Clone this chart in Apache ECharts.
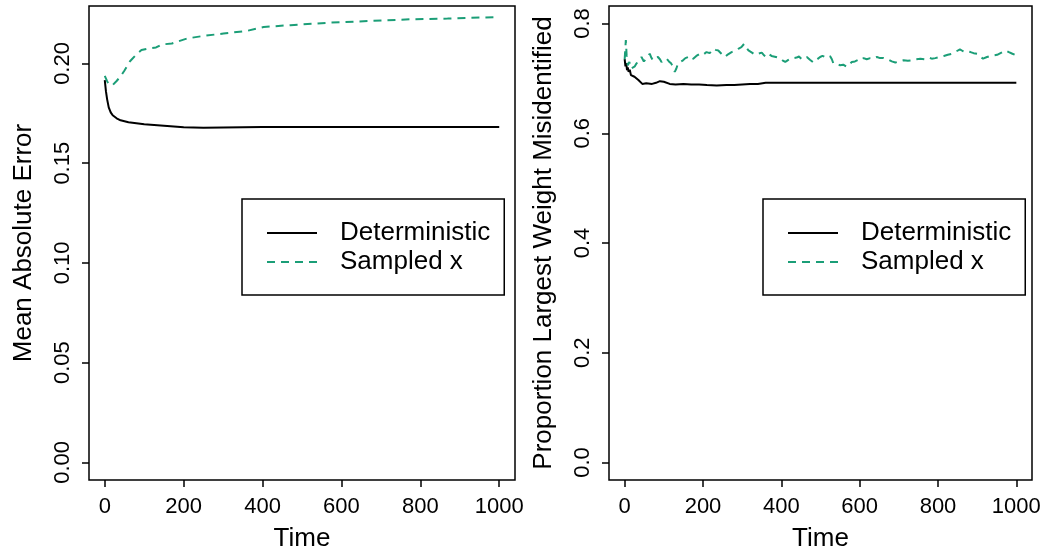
<!DOCTYPE html>
<html>
<head>
<meta charset="utf-8">
<script src="https://cdn.jsdelivr.net/npm/echarts@6/dist/echarts.min.js"></script>
<style>
  html, body { margin: 0; padding: 0; background: #fff; }
  #chart_1 { width: 1047px; height: 553px; }
</style>
</head>
<body>
<div id="chart_1"></div>
<script>
//*************************************************************************************************data
// left panel: mean absolute error
var mae_det_time = [0, 3, 6, 10, 15, 20, 30, 40, 60, 80, 100, 150, 200, 250, 300, 400, 500, 600, 800, 1000];
var mae_det_value = [0.1916, 0.1860, 0.1820, 0.1780, 0.1755, 0.1740, 0.1725, 0.1715, 0.1705, 0.1700, 0.1695, 0.1688, 0.1680, 0.1678, 0.1679, 0.1681, 0.1682, 0.1682, 0.1682, 0.1682];
var mae_smp_time = [0, 5, 10, 14, 20, 30, 40, 50, 64, 80, 93, 110, 130, 144, 170, 208, 250, 301, 360, 403, 471, 573, 674, 784, 869, 1000];
var mae_smp_value = [0.1938, 0.1915, 0.1895, 0.1886, 0.1892, 0.1912, 0.1935, 0.1965, 0.2011, 0.2045, 0.2067, 0.2075, 0.2080, 0.2095, 0.2100, 0.2125, 0.2138, 0.2150, 0.2163, 0.2183, 0.2192, 0.2205, 0.2213, 0.2222, 0.2225, 0.2233];

// right panel: proportion largest weight misidentified
var prop_det_time = [0, 2, 4, 6, 8, 10, 13, 16, 20, 25, 30, 35, 40, 45, 50, 55, 60, 70, 80, 90, 100, 115, 130, 150, 170, 190, 210, 235, 260, 280, 300, 320, 340, 360, 400, 500, 600, 700, 800, 900, 1000];
var prop_det_value = [0.735, 0.722, 0.728, 0.715, 0.720, 0.712, 0.716, 0.706, 0.708, 0.703, 0.700, 0.697, 0.694, 0.690, 0.689, 0.691, 0.688, 0.690, 0.692, 0.695, 0.694, 0.690, 0.689, 0.690, 0.689, 0.689, 0.688, 0.687, 0.688, 0.688, 0.689, 0.690, 0.690, 0.692, 0.692, 0.692, 0.692, 0.692, 0.692, 0.692, 0.692];
var prop_smp_time = [0, 3, 5, 8, 12, 16, 21, 26, 30, 36, 43, 49, 55, 60, 64, 68, 72, 78, 85, 90, 94, 100, 107, 113, 119, 124, 128, 132, 136, 142, 149, 155, 162, 168, 175, 183, 192, 200, 209, 217, 226, 232, 239, 247, 256, 264, 273, 281, 290, 298, 305, 311, 316, 325, 333, 341, 350, 356, 363, 369, 375, 386, 397, 403, 410, 416, 422, 430, 439, 445, 452, 458, 465, 473, 482, 490, 499, 505, 512, 518, 525, 529, 533, 541, 550, 558, 567, 573, 580, 588, 597, 603, 610, 618, 627, 635, 644, 652, 661, 667, 674, 682, 691, 701, 712, 723, 734, 744, 755, 765, 776, 784, 793, 804, 815, 825, 836, 846, 856, 863, 870, 877, 883, 891, 900, 907, 915, 925, 934, 942, 951, 962, 973, 981, 990, 1000];
var prop_smp_value = [0.735, 0.770, 0.742, 0.724, 0.730, 0.718, 0.715, 0.722, 0.727, 0.733, 0.739, 0.731, 0.736, 0.741, 0.745, 0.738, 0.733, 0.737, 0.739, 0.735, 0.730, 0.734, 0.736, 0.731, 0.727, 0.720, 0.712, 0.718, 0.727, 0.730, 0.733, 0.737, 0.739, 0.734, 0.736, 0.741, 0.745, 0.743, 0.748, 0.746, 0.754, 0.752, 0.751, 0.745, 0.739, 0.744, 0.748, 0.750, 0.754, 0.757, 0.763, 0.756, 0.751, 0.747, 0.743, 0.745, 0.747, 0.742, 0.739, 0.744, 0.741, 0.739, 0.737, 0.733, 0.730, 0.733, 0.736, 0.737, 0.738, 0.740, 0.735, 0.737, 0.739, 0.734, 0.729, 0.734, 0.739, 0.741, 0.739, 0.742, 0.740, 0.735, 0.727, 0.726, 0.724, 0.725, 0.721, 0.725, 0.730, 0.731, 0.734, 0.733, 0.737, 0.735, 0.737, 0.736, 0.739, 0.737, 0.737, 0.735, 0.734, 0.731, 0.729, 0.731, 0.733, 0.732, 0.733, 0.735, 0.736, 0.735, 0.738, 0.736, 0.737, 0.739, 0.741, 0.743, 0.745, 0.749, 0.753, 0.750, 0.748, 0.749, 0.748, 0.746, 0.745, 0.740, 0.736, 0.739, 0.741, 0.742, 0.743, 0.747, 0.751, 0.748, 0.745, 0.742];

// ticks and labels
var time_ticks = [0, 200, 400, 600, 800, 1000];
var mae_ticks = [0, 0.05, 0.10, 0.15, 0.20];
var prop_ticks = [0, 0.2, 0.4, 0.6, 0.8];
var series_names = ['Deterministic', 'Sampled x'];

//*************************************************************************************************draw
var chart_1 = echarts.init(document.getElementById('chart_1'));

var font = 'Liberation Sans';
var green = '#1B9E77';

function pairs(t, v) {
    return t.map(function (x, i) { return [x, v[i]]; });
}

function x_axis(grid) {
    return {
        type: 'value',
        gridIndex: grid,
        min: -40,
        max: 1040,
        name: 'Time',
        nameLocation: 'middle',
        nameGap: 46,
        nameTextStyle: { fontFamily: font, fontSize: 26, color: '#000' },
        axisLine: { show: false, onZero: false },
        axisTick: { show: true, length: 7, customValues: time_ticks, lineStyle: { color: '#000', width: 1.5 } },
        axisLabel: {
            customValues: time_ticks, margin: 16, fontFamily: font, fontSize: 22, color: '#000',
            formatter: function (v) { return String(v); }
        },
        splitLine: { show: false }
    };
}

function y_axis(grid, min, max, ticks, digits, title) {
    return {
        type: 'value',
        gridIndex: grid,
        min: min,
        max: max,
        name: title,
        nameLocation: 'middle',
        nameGap: 52,
        nameTextStyle: { fontFamily: font, fontSize: 26, color: '#000' },
        axisLine: { show: false, onZero: false },
        axisTick: { show: true, length: 7, customValues: ticks, lineStyle: { color: '#000', width: 1.5 } },
        axisLabel: {
            customValues: ticks, rotate: 90, margin: 15,
            fontFamily: font, fontSize: 22, color: '#000',
            formatter: function (v) { return v.toFixed(digits); }
        },
        splitLine: { show: false }
    };
}

function legend_box(left) {
    return {
        data: series_names,
        orient: 'vertical',
        left: left,
        top: 199,
        padding: [21, 14, 20, 24],
        itemWidth: 50,
        itemHeight: 14,
        itemGap: 3,
        selectedMode: false,
        borderColor: '#000',
        borderWidth: 1.5,
        borderRadius: 0,
        itemStyle: { opacity: 0 },
        textStyle: { fontFamily: font, fontSize: 26, color: '#000', padding: [0, 0, 0, 18] }
    };
}

var option = {
    animation: false,
    backgroundColor: '#fff',
    grid: [
        { left: 89, top: 6, width: 426, height: 474, outerBoundsMode: 'none', show: true, borderColor: '#000', borderWidth: 1.5 },
        { left: 609, top: 6, width: 423, height: 474, outerBoundsMode: 'none', show: true, borderColor: '#000', borderWidth: 1.5 }
    ],
    xAxis: [x_axis(0), x_axis(1)],
    yAxis: [
        y_axis(0, -0.0088, 0.2288, mae_ticks, 2, 'Mean Absolute Error'),
        y_axis(1, -0.032, 0.832, prop_ticks, 1, 'Proportion Largest Weight Misidentified')
    ],
    legend: [legend_box(242), legend_box(763)],
    series: [
        {
            name: 'Deterministic', type: 'line', xAxisIndex: 0, yAxisIndex: 0,
            symbol: 'none', data: pairs(mae_det_time, mae_det_value),
            lineStyle: { color: '#000', width: 2 }, itemStyle: { color: '#000' }
        },
        {
            name: 'Sampled x', type: 'line', xAxisIndex: 0, yAxisIndex: 0,
            symbol: 'none', data: pairs(mae_smp_time, mae_smp_value),
            lineStyle: { color: green, width: 2, type: [8, 6] }, itemStyle: { color: green }
        },
        {
            name: 'Deterministic', type: 'line', xAxisIndex: 1, yAxisIndex: 1,
            symbol: 'none', data: pairs(prop_det_time, prop_det_value),
            lineStyle: { color: '#000', width: 2 }, itemStyle: { color: '#000' }
        },
        {
            name: 'Sampled x', type: 'line', xAxisIndex: 1, yAxisIndex: 1,
            symbol: 'none', data: pairs(prop_smp_time, prop_smp_value),
            lineStyle: { color: green, width: 2, type: [8, 6] }, itemStyle: { color: green }
        }
    ]
};

chart_1.setOption(option);
</script>
</body>
</html>
